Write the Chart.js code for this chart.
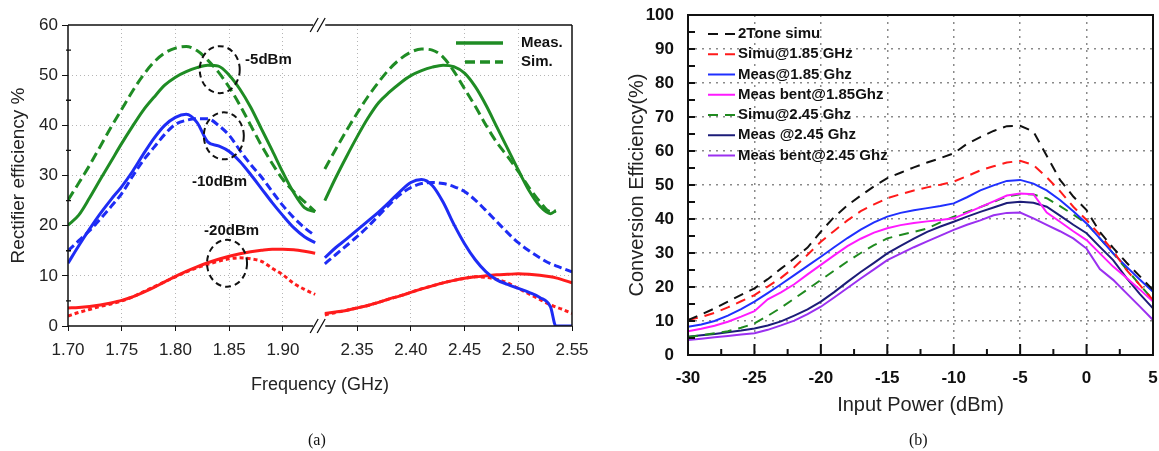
<!DOCTYPE html>
<html>
<head>
<meta charset="utf-8">
<style>
  body { margin: 0; background: #fff; width: 1159px; height: 451px; overflow: hidden; position: relative; }
  #wrapA { position: absolute; left: 0; top: 0; width: 600px; height: 451px; }
  #wrapB { position: absolute; left: 600px; top: 0; width: 559px; height: 451px; }
  .cap { position: absolute; top: 431px; font: 16px "Liberation Serif", "Times New Roman", serif; color: #111; }
</style>
<script src="https://cdn.jsdelivr.net/npm/chart.js@4.4.0/dist/chart.umd.min.js"></script>
</head>
<body>
<div id="wrapA"><canvas id="chartA" width="600" height="451"></canvas></div>
<div id="wrapB"><canvas id="chartB" width="559" height="451"></canvas></div>
<div class="cap" style="left:308px">(a)</div>
<div class="cap" style="left:909px">(b)</div>
<script>
// ---------- (a) rectifier efficiency vs frequency ----------
const freqLow = [1.70, 1.71, 1.72, 1.73, 1.74, 1.75, 1.76, 1.77, 1.78, 1.79, 1.80, 1.81,
                 1.82, 1.83, 1.84, 1.85, 1.86, 1.87, 1.88, 1.89, 1.90, 1.91, 1.92, 1.93];
const freqHigh = [2.32, 2.33, 2.34, 2.35, 2.36, 2.37, 2.38, 2.39, 2.40, 2.41, 2.42, 2.43,
                  2.44, 2.45, 2.46, 2.47, 2.48, 2.49, 2.50, 2.51, 2.52, 2.53, 2.535, 2.54, 2.55];

// -5 dBm
const measM5Low = [20.1, 22.1, 25.5, 29.2, 32.8, 36.4, 39.8, 43.0, 45.6, 48.0, 49.6, 50.7,
                   51.5, 52.0, 51.8, 50.0, 47.2, 43.6, 39.3, 35.0, 30.6, 26.6, 23.6, 22.8];
const simM5Low = [25.1, 28.5, 32.0, 35.8, 39.6, 43.2, 46.8, 50.0, 52.6, 54.4, 55.4, 55.7,
                  54.9, 53.0, 50.6, 47.6, 44.0, 40.0, 36.0, 32.4, 29.2, 26.8, 24.8, 22.8];
const measM5High = [25.0, 29.5, 33.7, 37.7, 41.4, 44.5, 46.6, 48.4, 49.9, 50.9, 51.6, 52.0,
                    51.7, 50.4, 47.7, 44.0, 39.7, 35.4, 31.1, 27.0, 23.9, 22.4, 23.0, null, null];
const simM5High = [31.3, 35.2, 38.9, 42.4, 45.7, 48.6, 51.2, 53.2, 54.6, 55.2, 55.0, 53.6,
                   50.8, 47.3, 43.8, 40.0, 36.6, 33.8, 30.8, 27.6, 24.8, 22.8, 22.9, null, null];
// -10 dBm
const measM10Low = [12.5, 16.0, 19.3, 22.4, 25.2, 27.8, 30.8, 34.2, 37.4, 40.0, 41.6, 42.2,
                    40.6, 36.7, 35.9, 34.8, 32.8, 30.2, 27.4, 24.6, 22.0, 19.6, 17.8, 16.6];
const simM10Low = [15.0, 17.0, 19.0, 21.3, 23.8, 26.4, 29.8, 33.0, 35.6, 38.2, 40.2, 41.0,
                   41.3, 41.3, 40.0, 38.0, 35.0, 32.2, 29.7, 26.8, 24.0, 21.6, 19.6, 18.0];
const measM10High = [13.6, 15.6, 17.3, 19.1, 20.9, 22.7, 24.7, 26.8, 28.6, 29.2, 28.0, 24.7,
                     20.3, 16.4, 13.2, 10.8, 9.2, 8.3, 7.5, 6.7, 5.7, 3.8, 0, 0, 0];
const simM10High = [12.4, 14.2, 16.0, 17.8, 19.8, 22.0, 24.2, 26.2, 27.6, 28.4, 28.6, 28.4,
                    27.8, 26.8, 25.1, 23.0, 20.8, 18.6, 16.6, 15.0, 13.6, 12.4, 12.0, 11.6, 10.8];
// -20 dBm
const measM20Low = [3.6, 3.7, 3.9, 4.2, 4.6, 5.1, 5.8, 6.7, 7.7, 8.8, 9.9, 10.9,
                    11.8, 12.6, 13.3, 13.9, 14.4, 14.8, 15.1, 15.3, 15.3, 15.2, 14.9, 14.5];
const simM20Low = [2.0, 2.7, 3.3, 3.9, 4.4, 5.0, 5.8, 6.8, 7.8, 8.8, 9.8, 10.8,
                   11.6, 12.3, 12.9, 13.4, 13.6, 13.4, 12.9, 11.5, 10.2, 8.5, 7.3, 6.3];
const measM20High = [2.5, 2.8, 3.1, 3.6, 4.1, 4.7, 5.4, 6.0, 6.7, 7.4, 8.0, 8.6,
                     9.1, 9.5, 9.8, 10.0, 10.2, 10.3, 10.4, 10.3, 10.1, 9.8, 9.6, 9.3, 8.6];
const simM20High = [2.2, 2.7, 3.1, 3.6, 4.1, 4.7, 5.4, 6.0, 6.7, 7.4, 8.0, 8.6,
                    9.1, 9.5, 9.8, 9.7, 9.3, 8.6, 7.5, 6.4, 5.3, 4.2, 3.8, 3.4, 2.5];

const freqTicksA = [1.70, 1.75, 1.80, 1.85, 1.90, 2.35, 2.40, 2.45, 2.50, 2.55];
const effTicksA = [0, 10, 20, 30, 40, 50, 60];

// ---------- (b) conversion efficiency vs input power ----------
const inputPower = [-30, -29, -28, -27, -26, -25, -24, -23, -22, -21, -20, -19, -18, -17, -16, -15, -14, -13,
                    -12, -11, -10, -9, -8, -7, -6, -5, -4, -3, -2, -1, 0, 1, 2, 3, 4, 5];
const twoToneSimu = [10.3, 11.9, 13.7, 15.7, 17.7, 19.6, 22.3, 25.4, 28.4, 31.6, 36.3, 40.6, 44.0, 46.9, 49.6, 52.0, 53.6, 55.2,
                     56.6, 57.9, 59.3, 62.1, 64.1, 65.9, 67.3, 67.4, 65.7, 58.6, 51.5, 46.6, 42.6, 36.2, 31.5, 27.2, 23.2, 19.1];
const simu185 = [10.3, 11.2, 12.4, 14.0, 15.8, 17.6, 20.1, 22.7, 25.8, 29.5, 33.3, 36.5, 39.6, 42.3, 44.3, 46.1, 47.3, 48.4,
                 49.3, 50.1, 51.0, 52.6, 54.3, 55.5, 56.6, 57.1, 55.9, 52.3, 48.2, 43.6, 39.7, 35.3, 30.6, 25.0, 20.6, 16.2];
const meas185 = [8.3, 9.0, 10.0, 11.6, 13.5, 15.7, 18.2, 20.8, 23.5, 26.2, 28.9, 31.7, 34.4, 36.9, 39.0, 40.7, 41.8, 42.6,
                 43.2, 43.8, 44.6, 46.4, 48.4, 49.9, 51.2, 51.5, 50.4, 48.4, 45.6, 42.3, 38.7, 34.3, 29.9, 26.0, 22.2, 18.6];
const measBent185 = [7.0, 7.7, 8.6, 9.8, 11.3, 12.9, 16.4, 18.4, 20.8, 23.7, 26.5, 29.3, 32.0, 34.2, 36.0, 37.3, 38.2, 38.8,
                     39.3, 39.7, 40.2, 41.8, 43.5, 45.2, 46.9, 47.5, 47.3, 41.9, 39.2, 36.4, 33.8, 29.9, 26.0, 22.7, 19.3, 15.7];
const simu245 = [5.3, 5.8, 6.4, 7.0, 8.0, 9.3, 11.5, 13.9, 16.6, 19.3, 22.1, 24.8, 27.5, 30.0, 32.3, 34.3, 35.3, 36.2,
                 37.2, 39.0, 40.7, 42.1, 43.5, 45.0, 46.6, 47.3, 47.2, 46.1, 43.8, 41.3, 38.7, 34.3, 29.9, 25.3, 20.7, 16.2];
const meas245 = [5.4, 5.8, 6.2, 6.7, 7.2, 7.8, 8.7, 9.9, 11.6, 13.4, 15.7, 18.5, 21.5, 24.4, 27.1, 29.9, 32.1, 34.2,
                 36.2, 37.8, 39.2, 40.7, 42.1, 43.4, 44.7, 45.1, 44.8, 43.6, 41.0, 38.3, 35.8, 31.8, 27.9, 22.7, 18.0, 13.7];
const measBent245 = [4.4, 4.8, 5.2, 5.6, 6.0, 6.4, 7.4, 8.7, 10.1, 12.0, 14.2, 16.9, 19.7, 22.5, 25.2, 27.9, 29.8, 31.7,
                     33.4, 35.1, 36.8, 38.3, 39.6, 41.1, 41.8, 41.9, 40.2, 38.3, 36.4, 34.3, 31.3, 25.3, 22.1, 18.2, 14.3, 10.3];

const FONT = '"Liberation Sans", Arial, sans-serif';
Chart.defaults.font.family = FONT;
Chart.defaults.color = '#111';

// the frequency axis is broken between 1.93 and 2.32 GHz
const SHIFT = 2.3185 - 1.9375;
const toAxis = f => (f > 2 ? f - SHIFT : f);
const pts = (freqs, vals) => freqs.map((f, i) => ({ x: toAxis(f), y: vals[i] }));

const GREEN = '#1f8c24';
const BLUE = '#1e2cf5';
const RED = '#ff1c1c';

function line(label, data, color, dash) {
    return {
        label: label,
        data: data,
        borderColor: color,
        borderWidth: 3,
        borderDash: dash || [],
        pointRadius: 0,
        fill: false,
        cubicInterpolationMode: 'monotone',
        spanGaps: false,
    };
}

function fixBox(w, h) {
    return function (s) {
        if (w !== null) s.width = w;
        if (h !== null) s.height = h;
        s.paddingLeft = 0; s.paddingRight = 0; s.paddingTop = 0; s.paddingBottom = 0;
    };
}

const decorA = {
    id: 'decorA',
    afterDatasetsDraw(chart) {
        const { ctx, chartArea: a, scales: { x, y } } = chart;
        const gL = x.getPixelForValue(1.93) - 2;
        const gR = x.getPixelForValue(toAxis(2.3185)) + 2;
        ctx.save();
        ctx.strokeStyle = '#111';
        ctx.lineWidth = 1.5;
        ctx.beginPath();
        ctx.moveTo(a.left, a.top); ctx.lineTo(a.left, a.bottom);
        ctx.moveTo(a.right, a.top); ctx.lineTo(a.right, a.bottom);
        [a.top, a.bottom].forEach(yy => {
            ctx.moveTo(a.left, yy); ctx.lineTo(gL, yy);
            ctx.moveTo(gR, yy); ctx.lineTo(a.right, yy);
        });
        ctx.stroke();
        // break marks
        ctx.lineWidth = 1.3;
        ctx.beginPath();
        [a.top, a.bottom].forEach(yy => {
            [gL + 1, gL + 8].forEach(cx => {
                ctx.moveTo(cx - 4, yy + 7); ctx.lineTo(cx + 4, yy - 7);
            });
        });
        ctx.stroke();
        // minor ticks on y axis
        ctx.beginPath();
        for (let v = 5; v < 60; v += 10) {
            const py = y.getPixelForValue(v);
            ctx.moveTo(a.left - 2, py); ctx.lineTo(a.left + 3, py);
        }
        ctx.stroke();
        // circles marking the curve groups
        ctx.lineWidth = 2;
        ctx.setLineDash([6, 4]);
        [[1.8412, 51.1], [1.845, 37.9], [1.848, 12.5]].forEach(([f, v]) => {
            ctx.beginPath();
            ctx.ellipse(x.getPixelForValue(f), y.getPixelForValue(v), 20, 23.5, 0, 0, Math.PI * 2);
            ctx.stroke();
        });
        ctx.setLineDash([]);
        // labels
        ctx.fillStyle = '#111';
        ctx.font = 'bold 15px ' + FONT;
        ctx.textBaseline = 'middle';
        ctx.textAlign = 'left';
        [['-5dBm', 1.8648, 53.1], ['-10dBm', 1.8154, 28.7], ['-20dBm', 1.8266, 19.0]].forEach(([t, f, v]) => {
            ctx.fillText(t, x.getPixelForValue(f), y.getPixelForValue(v));
        });
        // legend
        ctx.strokeStyle = GREEN;
        ctx.lineWidth = 3.5;
        ctx.beginPath(); ctx.moveTo(456, 43); ctx.lineTo(503, 43); ctx.stroke();
        ctx.setLineDash([10, 5]);
        ctx.beginPath(); ctx.moveTo(465, 62); ctx.lineTo(503, 62); ctx.stroke();
        ctx.setLineDash([]);
        ctx.fillText('Meas.', 521, 43);
        ctx.fillText('Sim.', 521, 62);
        ctx.restore();
    }
};

new Chart(document.getElementById('chartA'), {
    type: 'line',
    data: {
        datasets: [
            line('Meas. -5dBm', pts(freqLow, measM5Low), GREEN),
            line('Sim. -5dBm', pts(freqLow, simM5Low), GREEN, [10, 5]),
            line('Meas. -10dBm', pts(freqLow, measM10Low), BLUE),
            line('Sim. -10dBm', pts(freqLow, simM10Low), BLUE, [8, 4]),
            line('Meas. -20dBm', pts(freqLow, measM20Low), RED),
            line('Sim. -20dBm', pts(freqLow, simM20Low), RED, [4, 3]),
            line('Meas. -5dBm', pts(freqHigh, measM5High), GREEN),
            line('Sim. -5dBm', pts(freqHigh, simM5High), GREEN, [10, 5]),
            line('Meas. -10dBm', pts(freqHigh, measM10High), BLUE),
            line('Sim. -10dBm', pts(freqHigh, simM10High), BLUE, [8, 4]),
            line('Meas. -20dBm', pts(freqHigh, measM20High), RED),
            line('Sim. -20dBm', pts(freqHigh, simM20High), RED, [4, 3]),
        ]
    },
    options: {
        responsive: false,
        animation: false,
        devicePixelRatio: 1,
        layout: { padding: { left: 0, top: 25, right: 28, bottom: 55 } },
        plugins: { legend: { display: false }, tooltip: { enabled: false } },
        scales: {
            x: {
                type: 'linear',
                min: 1.70,
                max: toAxis(2.55),
                afterBuildTicks: s => { s.ticks = freqTicksA.map(f => ({ value: toAxis(f) })); },
                afterFit: fixBox(null, 70),
                border: { display: false, dash: [1, 3] },
                grid: {
                    color: c => (c.tick && c.index > 0 && c.index < freqTicksA.length - 1 ? '#b5b5b5' : 'rgba(0,0,0,0)'),
                    lineWidth: 1,
                    tickLength: 5,
                    tickColor: '#111',
                },
                ticks: {
                    autoSkip: false,
                    maxRotation: 0,
                    padding: 9,
                    font: { size: 17 },
                    color: '#222',
                    callback: (v, i) => freqTicksA[i].toFixed(2),
                },
                title: { display: true, text: 'Frequency (GHz)', font: { size: 18 }, color: '#222', padding: 0 },
            },
            y: {
                min: 0,
                max: 60,
                afterBuildTicks: s => { s.ticks = effTicksA.map(v => ({ value: v })); },
                afterFit: fixBox(68, null),
                border: { display: false, dash: [1, 3] },
                grid: {
                    color: c => (c.tick && c.tick.value > 0 && c.tick.value < 60 ? '#b5b5b5' : 'rgba(0,0,0,0)'),
                    lineWidth: 1,
                    tickLength: 6,
                    tickColor: '#111',
                },
                ticks: { padding: 4, font: { size: 17 }, color: '#222' },
                title: { display: true, text: 'Rectifier efficiency %', font: { size: 19 }, color: '#222', padding: { top: 7, bottom: 0 } },
            }
        }
    },
    plugins: [decorA]
});

// ---------- chart (b) ----------
const decorB = {
    id: 'decorB',
    afterDatasetsDraw(chart) {
        const { ctx, chartArea: a, scales: { x, y } } = chart;
        ctx.save();
        ctx.strokeStyle = '#111';
        ctx.lineWidth = 2;
        ctx.strokeRect(a.left, a.top, a.right - a.left, a.bottom - a.top);
        ctx.beginPath();
        for (let v = 5; v < 100; v += 5) {
            const py = y.getPixelForValue(v);
            ctx.moveTo(a.left, py); ctx.lineTo(a.left + 7, py);
        }
        for (let v = -27.5; v < 5; v += 2.5) {
            const px = x.getPixelForValue(v);
            ctx.moveTo(px, a.bottom); ctx.lineTo(px, a.bottom - (v % 5 === 0 ? 11 : 6));
        }
        ctx.stroke();
        // legend
        ctx.font = 'bold 15px ' + FONT;
        ctx.textBaseline = 'middle';
        ctx.textAlign = 'left';
        ctx.fillStyle = '#111';
        chart.data.datasets.forEach((ds, i) => {
            const ly = a.top + 19 + i * 20.25;
            ctx.strokeStyle = ds.borderColor;
            ctx.lineWidth = 2;
            ctx.setLineDash(ds.borderDash);
            ctx.beginPath(); ctx.moveTo(a.left + 20, ly); ctx.lineTo(a.left + 47, ly); ctx.stroke();
            ctx.setLineDash([]);
            ctx.fillText(ds.label, a.left + 50, ly);
        });
        ctx.restore();
    }
};

function seriesB(label, vals, color, dash) {
    return {
        label: label,
        data: vals,
        borderColor: color,
        borderWidth: 2,
        borderDash: dash || [],
        pointRadius: 0,
        tension: 0,
        fill: false,
    };
}

new Chart(document.getElementById('chartB'), {
    type: 'line',
    data: {
        labels: inputPower,
        datasets: [
            seriesB('2Tone simu', twoToneSimu, '#111111', [10, 7]),
            seriesB('Simu@1.85 GHz', simu185, '#ff1a1a', [10, 7]),
            seriesB('Meas@1.85 Ghz', meas185, '#1f2fff'),
            seriesB('Meas bent@1.85Ghz', measBent185, '#ff1aff'),
            seriesB('Simu@2.45 Ghz', simu245, '#1f8a1f', [10, 7]),
            seriesB('Meas @2.45 Ghz', meas245, '#1c1c78'),
            seriesB('Meas bent@2.45 Ghz', measBent245, '#9b30f0'),
        ]
    },
    options: {
        responsive: false,
        animation: false,
        devicePixelRatio: 1,
        parsing: { xAxisKey: undefined },
        layout: { padding: { left: 0, top: 15, right: 6, bottom: 34 } },
        plugins: { legend: { display: false }, tooltip: { enabled: false } },
        scales: {
            x: {
                type: 'linear',
                min: -30,
                max: 5,
                afterFit: fixBox(null, 62),
                border: { display: false, dash: [2, 5] },
                grid: {
                    color: c => (c.tick && c.tick.value > -30 && c.tick.value < 5 ? '#8a8a8a' : 'rgba(0,0,0,0)'),
                    lineWidth: 1.5,
                    drawTicks: false,
                },
                ticks: { stepSize: 5, autoSkip: false, maxRotation: 0, padding: 13, font: { size: 17, weight: 'bold' }, color: '#111' },
                title: { display: true, text: 'Input Power (dBm)', font: { size: 20 }, color: '#222', padding: 0 },
            },
            y: {
                min: 0,
                max: 100,
                afterFit: fixBox(88, null),
                border: { display: false, dash: [2, 5] },
                grid: {
                    color: c => (c.tick && c.tick.value > 0 && c.tick.value < 100 ? '#8a8a8a' : 'rgba(0,0,0,0)'),
                    lineWidth: 1.5,
                    drawTicks: false,
                },
                ticks: { stepSize: 10, padding: 14, font: { size: 17, weight: 'bold' }, color: '#111' },
                title: { display: true, text: 'Conversion Efficiency(%)', font: { size: 20 }, color: '#222', padding: { top: 25, bottom: 0 } },
            }
        }
    },
    plugins: [decorB]
});
</script>
</body>
</html>
